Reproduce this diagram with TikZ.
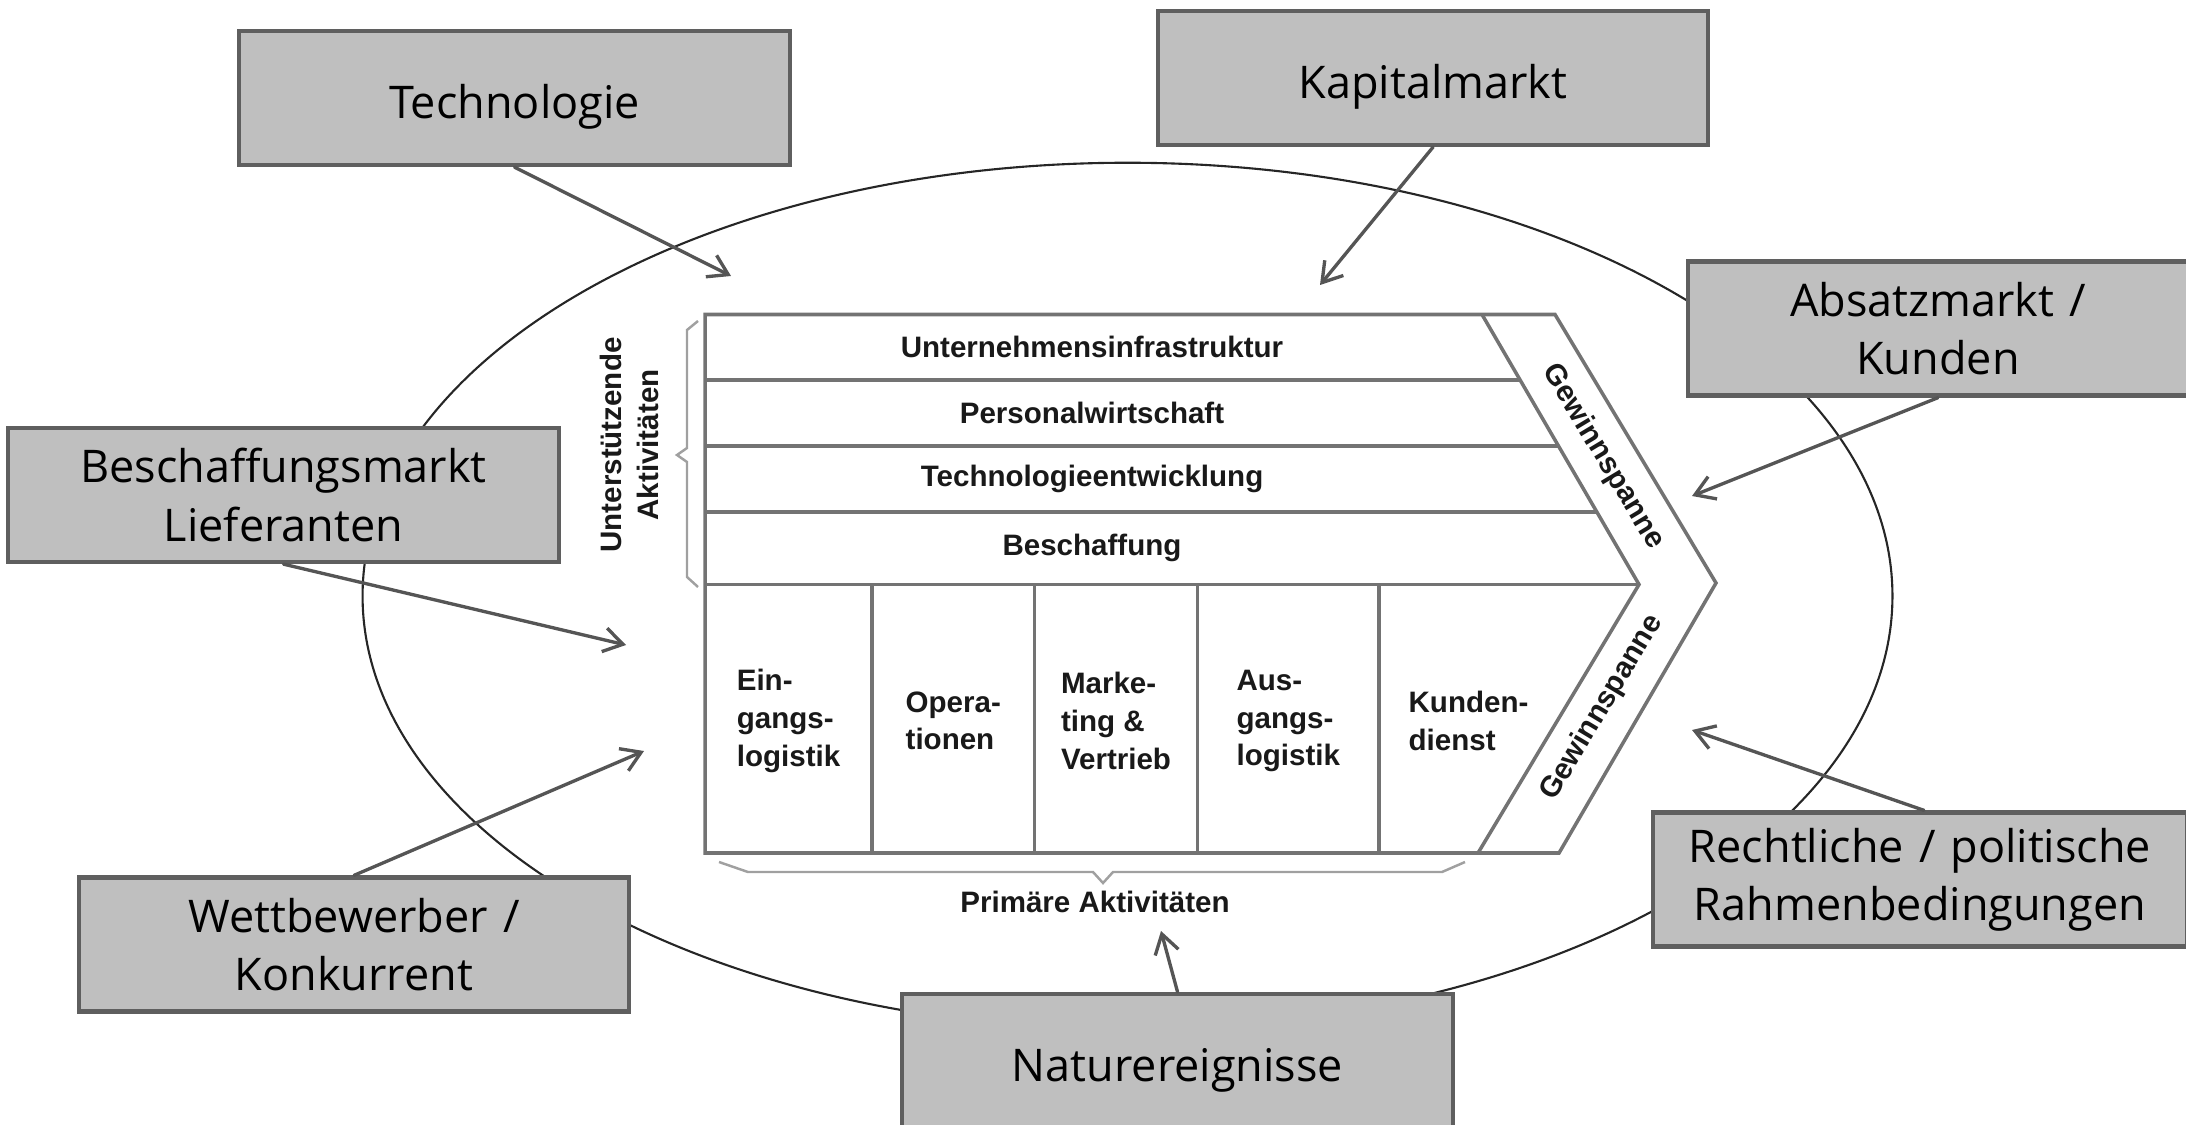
\documentclass[tikz,border=0pt]{standalone}
\usepackage{fontspec}
\setmainfont{Open Sans}
\newfontfamily\kettenfont{Liberation Sans}
\usetikzlibrary{positioning, calc, arrows.meta}

\definecolor{boxfill}{RGB}{191,191,191}
\definecolor{boxrand}{RGB}{95,95,95}
\definecolor{pfeilgrau}{RGB}{85,85,85}
\definecolor{kettegrau}{RGB}{115,115,115}
\definecolor{klammergrau}{RGB}{160,160,160}

\begin{document}
\begin{tikzpicture}[x=0.01cm, y=0.01cm]
    % Define block styles
    \tikzstyle{umfeld} = [rectangle, draw=boxrand, line width=1.2pt, fill=boxfill, text width=5.2cm, align=center, minimum width=5.5cm, minimum height=1.34cm, inner sep=0pt, font=\fontsize{12.8}{16.5}\selectfont]
    \tikzstyle{kette} = [draw=kettegrau, line width=1pt]
    \tikzstyle{klammer} = [draw=klammergrau, line width=0.7pt]
    \tikzstyle{aktivitaet} = [inner sep=0pt, text=black!90, font=\kettenfont\bfseries\fontsize{8.4}{10.7}\selectfont]
    \tikzstyle{pfeil} = [draw=pfeilgrau, line width=0.95pt, line cap=round, -{Straight Barb[length=1.9mm, width=2.4mm]}]

    \useasboundingbox (0,0) rectangle (2186,-1125);

    % Environment
    \draw [line width=0.6pt, black!85] (1127.5,-596) ellipse [x radius=7.645cm, y radius=4.33cm];

    % Value chain
    \draw [kette] (705,-314.5) -- (1555,-314.5) -- (1716,-583) -- (1559,-853) -- (705,-853) -- cycle;
    \draw [kette] (1482,-314.5) -- (1639,-584.5) -- (1478,-853);
    \draw [kette] (705,-380) -- (1520,-380);
    \draw [kette] (705,-446) -- (1558.5,-446);
    \draw [kette] (705,-512) -- (1597,-512);
    \draw [kette] (705,-584.5) -- (1639,-584.5);
    \foreach \x in {872,1034.5,1197.5,1379}
        \draw [kette] (\x,-584.5) -- (\x,-853);

    % Braces
    \draw [klammer] (698,-321) -- (687,-330) -- (687,-448) -- (677,-455) -- (687,-462) -- (687,-577) -- (698,-587);
    \draw [klammer] (719,-862) -- (748,-872) -- (1093,-872) -- (1103,-883) -- (1113,-872) -- (1442,-872) -- (1465,-862);

    % Place activity nodes
    \node [aktivitaet] (infra) at (1092,-347) {Unternehmensinfrastruktur};
    \node [aktivitaet] (personal) at (1092,-413) {Personalwirtschaft};
    \node [aktivitaet] (techentw) at (1092,-479) {Technologieentwicklung};
    \node [aktivitaet] (beschaffung) at (1092,-548) {Beschaffung};
    \node [aktivitaet, align=left] (eingang) at (788.5,-721) {Ein-\\gangs-\\logistik};
    \node [aktivitaet, align=left] (operation) at (953.25,-721) {Opera-\\tionen};
    \node [aktivitaet, align=left] (marketing) at (1116,-721) {Marke-\\ting \&\\Vertrieb};
    \node [aktivitaet, align=left] (ausgang) at (1288.25,-721) {Aus-\\gangs-\\logistik};
    \node [aktivitaet, align=left] (kundendienst) at (1468.5,-721) {Kunden-\\dienst};
    \node [aktivitaet] (marge-oben) at (1603,-457) {\rotatebox{-59}{Gewinnspanne}};
    \node [aktivitaet] (marge-unten) at (1602,-708) {\rotatebox{59}{Gewinnspanne}};
    \node [aktivitaet, rotate=90, align=center] (unterstuetzend) at (629.5,-445) {Unterstützende\\Aktivitäten};
    \node [aktivitaet] (primaer) at (1095,-902) {Primäre Aktivitäten};

    % Place environment boxes
    \node [umfeld] (technologie) at (514.5,-98) {\rule{0pt}{14.5pt}Technologie};
    \node [umfeld] (kapitalmarkt) at (1433,-78) {\rule{0pt}{14.5pt}Kapitalmarkt};
    \node [umfeld, minimum width=5cm, text width=4.8cm] (absatzmarkt) at (1938,-328.5) {Absatzmarkt /\\Kunden};
    \node [umfeld] (beschaffungsmarkt) at (283.5,-495) {Beschaffungsmarkt\\Lieferanten};
    \node [umfeld] (wettbewerber) at (354,-944.5) {Wettbewerber /\\Konkurrent};
    \node [umfeld] (natur) at (1177.5,-1061) {\rule{0pt}{14.5pt}Naturereignisse};
    \node [umfeld, minimum width=5.34cm] (recht) at (1920,-879.5) {Rechtliche / politische\\Rahmenbedingungen};

    % Arrow targets
    \coordinate (ziel-tech) at (731,-276);
    \coordinate (ziel-kapital) at (1320,-285);
    \coordinate (ziel-absatz) at (1692,-496);
    \coordinate (ziel-beschaffung) at (626,-645);
    \coordinate (ziel-wettbewerb) at (644,-751);
    \coordinate (ziel-natur) at (1161,-931);
    \coordinate (ziel-recht) at (1692,-730);

    % Draw connections as arrows
    \draw [pfeil] (technologie.south) -- (ziel-tech);
    \draw [pfeil] (kapitalmarkt.south) -- (ziel-kapital);
    \draw [pfeil] (absatzmarkt.south) -- (ziel-absatz);
    \draw [pfeil] (beschaffungsmarkt.south) -- (ziel-beschaffung);
    \draw [pfeil] (wettbewerber.north) -- (ziel-wettbewerb);
    \draw [pfeil] (natur.north) -- (ziel-natur);
    \draw [pfeil] ([xshift=0.04cm]recht.north) -- (ziel-recht);

\end{tikzpicture}
\end{document}
